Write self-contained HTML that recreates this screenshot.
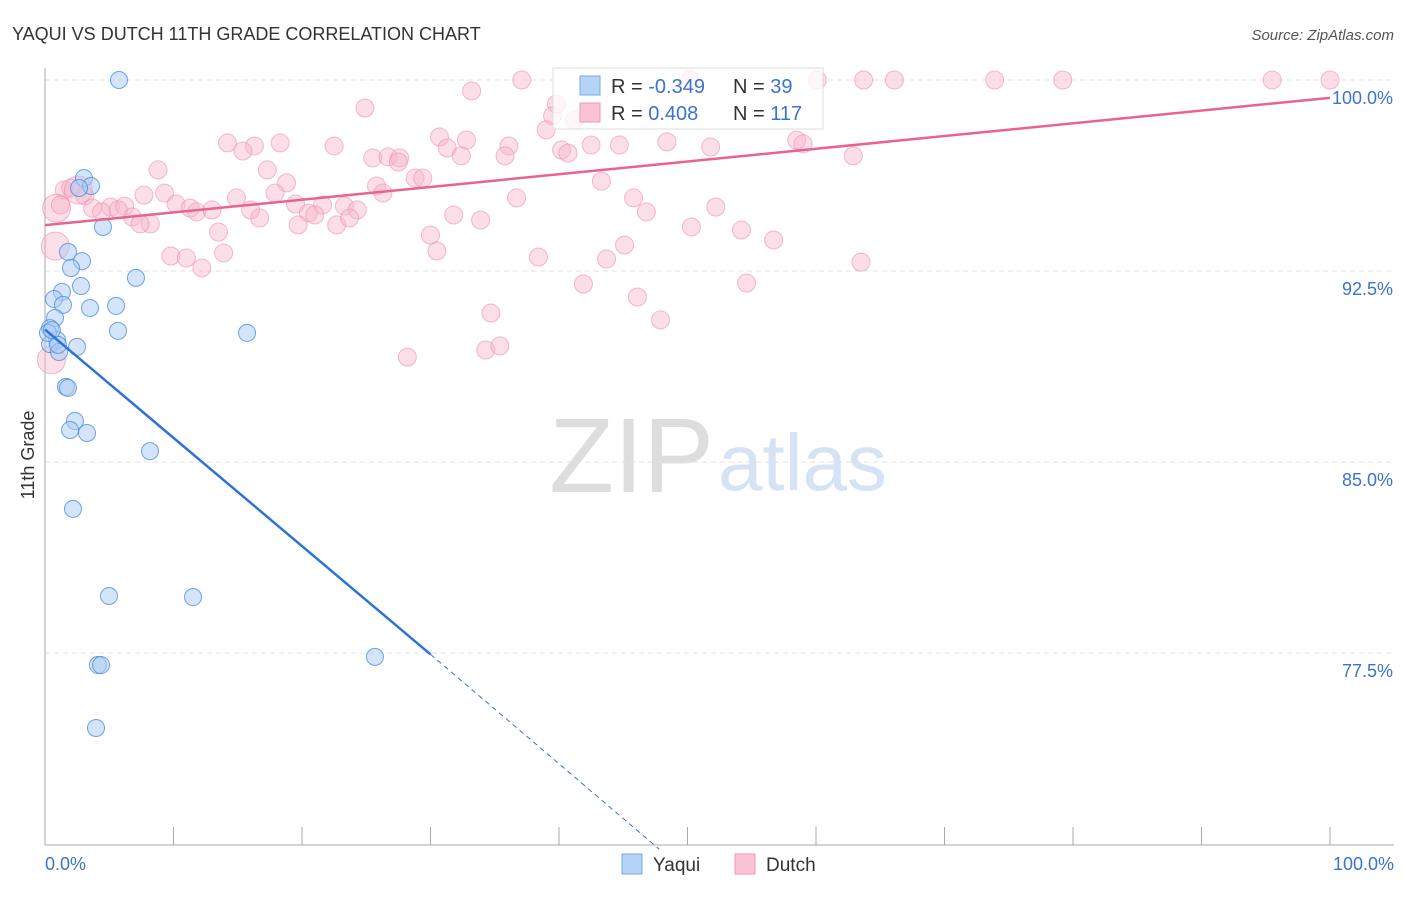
<!DOCTYPE html>
<html><head><meta charset="utf-8"><style>
body{margin:0;background:#fff;font-family:"Liberation Sans",sans-serif;}
svg text{font-family:"Liberation Sans",sans-serif;}
</style></head><body>
<svg id="chart" width="1406" height="892">
<text x="12" y="40" font-size="18" fill="#333">YAQUI VS DUTCH 11TH GRADE CORRELATION CHART</text>
<text x="1394" y="40" font-size="15" fill="#555" font-style="italic" text-anchor="end">Source: ZipAtlas.com</text>
<text x="714" y="492" font-size="106" fill="#ddd" text-anchor="end" font-family="Liberation Serif">ZIP</text>
<text x="718" y="490" font-size="80" fill="#d6e3f5">atlas</text>
<g id="grid"></g>
<g id="axes"></g>
<g id="dutch"></g>
<g id="yaqui"></g>
<g id="trends"></g>
<text x="34" y="455" font-size="18" fill="#333" text-anchor="middle" transform="rotate(-90 34 455)">11th Grade</text>
<g>
<rect x="553" y="68" width="270" height="61" fill="#fff" fill-opacity="0.75" stroke="#ddd"/>
<rect x="580" y="76" width="20" height="19" fill="#b6d3f7" stroke="#7aa9e6"/>
<rect x="580" y="103" width="20" height="19" fill="#f9c3d3" stroke="#ee98b2"/>
<text x="611" y="93" font-size="20" fill="#333">R = <tspan fill="#3a73d0">-0.349</tspan></text>
<text x="733" y="93" font-size="20" fill="#333">N = <tspan fill="#3a73d0"> 39</tspan></text>
<text x="611" y="120" font-size="20" fill="#333">R = <tspan fill="#3a73d0"> 0.408</tspan></text>
<text x="733" y="120" font-size="20" fill="#333">N = <tspan fill="#3a73d0">117</tspan></text>
</g>
<g>
<rect x="622" y="854" width="20" height="20" fill="#b6d3f7" stroke="#7aa9e6"/>
<text x="653" y="871" font-size="19" fill="#333">Yaqui</text>
<rect x="735" y="854" width="20" height="20" fill="#f9c3d3" stroke="#ee98b2"/>
<text x="766" y="871" font-size="19" fill="#333">Dutch</text>
</g>
</svg>
<script>
const yTicks=[100,92.5,85,77.5];
const yTickLabels=["100.0%","92.5%","85.0%","77.5%"];
const xLabels=["0.0%","100.0%"];
const yaquiX=[5.76,3.03,3.58,2.65,4.51,1.79,2.88,2.02,7.08,2.80,1.32,0.70,1.40,3.50,5.53,0.78,0.39,5.68,15.72,0.93,0.39,2.49,1.09,1.63,1.79,2.33,1.95,3.27,8.17,2.18,4.98,11.52,4.12,4.36,25.68,3.97,0.23,0.54,1.01];
const yaquiY=[100,96.15,95.84,95.76,94.23,93.25,92.89,92.62,92.23,91.91,91.68,91.40,91.17,91.05,91.13,90.66,90.26,90.15,90.07,89.79,89.63,89.52,89.32,87.95,87.91,86.61,86.26,86.14,85.43,83.16,79.74,79.70,77.03,77.03,77.35,74.56,90.07,90.18,89.60];
const dutchX=[37.1,50.2,60.1,63.7,66.1,73.9,79.2,95.5,100,33.2,24.9,39.8,39.5,41.2,39.0,30.7,32.8,14.2,16.3,22.5,15.4,18.3,31.3,36.1,40.2,40.7,42.5,44.7,48.4,51.8,58.5,59.0,62.9,32.4,25.5,26.7,27.6,27.5,35.8,8.8,17.3,28.8,29.4,18.8,25.8,26.3,43.3,9.3,17.9,14.9,7.7,1.5,2.0,3.1,3.7,5.1,6.2,6.8,4.4,5.7,8.2,7.4,10.2,11.3,11.8,13.0,16.0,16.7,19.5,20.5,21.6,21.0,19.7,23.3,24.3,22.7,23.7,31.8,33.9,36.7,45.8,46.8,52.2,13.5,9.8,11.0,12.2,13.9,30.0,30.5,38.4,45.1,43.7,50.3,54.2,56.7,63.5,41.9,46.1,54.6,34.7,47.9,28.2,34.3,35.4,0.9,1.2,0.8,0.5,2.6];
const dutchY=[100,100,100,100,100,100,100,100,100,99.57,98.90,99.06,98.59,98.43,98.04,97.76,97.64,97.53,97.41,97.41,97.21,97.53,97.33,97.41,97.25,97.13,97.45,97.45,97.57,97.37,97.64,97.49,97.02,97.02,96.94,96.98,96.94,96.78,97.02,96.47,96.47,96.15,96.15,95.96,95.84,95.56,96.03,95.56,95.56,95.37,95.48,95.68,95.76,95.45,94.97,95.01,95.05,94.62,94.82,94.90,94.35,94.35,95.13,94.97,94.82,94.90,94.90,94.58,95.13,94.78,95.09,94.70,94.31,95.05,94.90,94.31,94.58,94.70,94.50,95.37,95.37,94.82,95.01,94.03,93.09,93.01,92.62,93.21,93.91,93.29,93.05,93.52,92.97,94.23,94.11,93.72,92.85,91.99,91.48,92.03,90.85,90.58,89.12,89.40,89.56,94.97,95.09,93.48,89.01,95.68];
const dutchBig=[0,0,0,0,0,0,0,0,0,0,0,0,0,0,0,0,0,0,0,0,0,0,0,0,0,0,0,0,0,0,0,0,0,0,0,0,0,0,0,0,0,0,0,0,0,0,0,0,0,0,0,0,0,0,0,0,0,0,0,0,0,0,0,0,0,0,0,0,0,0,0,0,0,0,0,0,0,0,0,0,0,0,0,0,0,0,0,0,0,0,0,0,0,0,0,0,0,0,0,0,0,0,0,0,0,1,0,1,1,1];
const yaquiTrend=[[0,90.2],[30,77.45]];
const yaquiTrendDash=[[30,77.45],[47.8,69.8]];
const dutchTrend=[[0,94.3],[100,99.3]];
const NS="http://www.w3.org/2000/svg";
const xs=v=>45+v*12.85, ys=v=>80+(100-v)*25.47;
function mk(parent,tag,attrs){const e=document.createElementNS(NS,tag);for(const k in attrs)e.setAttribute(k,attrs[k]);document.getElementById(parent).appendChild(e);return e;}
yTicks.forEach((t,i)=>{
 const l=mk('grid','line',{x1:45,x2:1394,y1:ys(t),y2:ys(t),stroke:'#e2e2e2','stroke-dasharray':'5,4'});
 
 
 const tx=mk('grid','text',{x:1393,y:ys(t)+24,'font-size':18,fill:'#3a73d0','text-anchor':'end'});
 tx.textContent=yTickLabels[i];
 
 
});
const ax=mk('axes','line',{x1:45,x2:45,y1:68,y2:845,stroke:'#aaa'});


const bx=mk('axes','line',{x1:45,x2:1394,y1:845,y2:845,stroke:'#aaa'});


for(let i=0;i<=10;i++){const t=mk('axes','line',{x1:xs(i*10),x2:xs(i*10),y1:827,y2:845,stroke:'#aaa'});
 
 }
[[0,'start'],[100,'end']].forEach((p,i)=>{const t=mk('axes','text',{x:i?1394:45,y:870,'font-size':18,fill:'#3a73d0','text-anchor':p[1]});t.textContent=xLabels[i];
 
 });
dutchX.forEach((x,i)=>{const c=mk('dutch','circle',{cx:xs(x),cy:ys(dutchY[i]),r:dutchBig[i]?14:9,fill:'#f7b6ca','fill-opacity':0.45,stroke:'#ec8fae','stroke-opacity':0.6});
 
 });
yaquiX.forEach((x,i)=>{const c=mk('yaqui','circle',{cx:xs(x),cy:ys(yaquiY[i]),r:8.5,fill:'#a9cbf3','fill-opacity':0.5,stroke:'#4d8ce0','stroke-opacity':0.8});
 
 });
const t1=mk('trends','line',{x1:xs(dutchTrend[0][0]),y1:ys(dutchTrend[0][1]),x2:xs(dutchTrend[1][0]),y2:ys(dutchTrend[1][1]),stroke:'#e8648e','stroke-width':2.5});


const t2=mk('trends','line',{x1:xs(yaquiTrend[0][0]),y1:ys(yaquiTrend[0][1]),x2:xs(yaquiTrend[1][0]),y2:ys(yaquiTrend[1][1]),stroke:'#2f72d8','stroke-width':2.5});


const t3=mk('trends','line',{x1:xs(yaquiTrendDash[0][0]),y1:ys(yaquiTrendDash[0][1]),x2:xs(yaquiTrendDash[1][0]),y2:ys(yaquiTrendDash[1][1]),stroke:'#2f72d8','stroke-width':1,'stroke-dasharray':'5,4'});


</script>
</body></html>
